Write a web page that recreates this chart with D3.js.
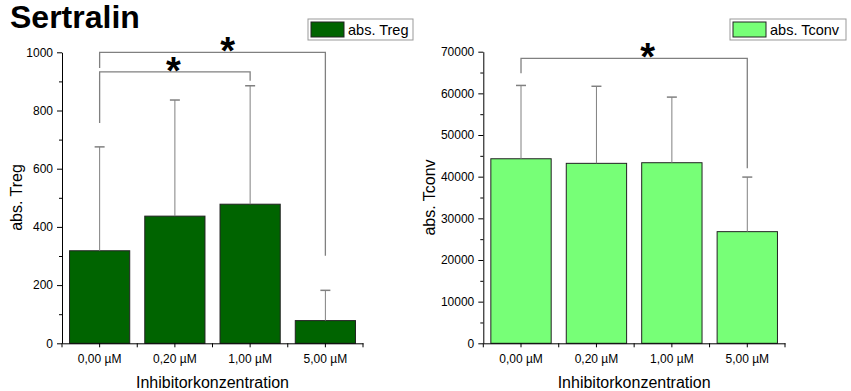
<!DOCTYPE html>
<html>
<head>
<meta charset="utf-8">
<script src="https://cdn.jsdelivr.net/npm/d3@7"></script>
<style>
  body { margin: 0; background: #fff; }
  svg { font-family: "Liberation Sans", Arial, sans-serif; }
</style>
</head>
<body>
<div id="chart"></div>
<script>
// Data
var categories = ["0,00 µM", "0,20 µM", "1,00 µM", "5,00 µM"];
var tregMean = [318, 437, 478, 78];
var tregSD = [357, 399, 407, 104];
var tconvMean = [44300, 43200, 43350, 26800];
var tconvSD = [17600, 18500, 15750, 13100];
var tregTicks = [0, 200, 400, 600, 800, 1000];
var tconvTicks = [0, 10000, 20000, 30000, 40000, 50000, 60000, 70000];

// significance brackets, in data units (star = category index of the asterisk)
var tregBrackets = [
  {from: 0, to: 3, y: 1000, left: 946, right: 301, star: 1.7},
  {from: 0, to: 2, y: 933, left: 757, right: 902, star: 0.98}
];
var tconvBrackets = [
  {from: 0, to: 3, y: 68400, left: 64800, right: 42000, star: 1.68}
];

var w = 851;
var h = 391;

var svg = d3.select("#chart")
  .append("svg")
  .attr("width", w)
  .attr("height", h);

svg.append("rect")
  .attr("width", w)
  .attr("height", h)
  .attr("fill", "#fff");

svg.append("text")
  .attr("x", 10)
  .attr("y", 28)
  .attr("font-size", "32px")
  .attr("font-weight", "bold")
  .text("Sertralin");

function drawPanel(p) {
  var g = svg.append("g");

  var xScale = d3.scaleBand()
    .domain(categories)
    .range([p.x0, p.x1])
    .paddingInner(0.2)
    .paddingOuter(0.1);

  var yScale = d3.scaleLinear()
    .domain([0, p.max])
    .range([p.y0, p.y1]);

  // minor y ticks
  var minor = [];
  for (var i = 0; i < p.ticks.length - 1; i++) {
    minor.push((p.ticks[i] + p.ticks[i + 1]) / 2);
  }
  g.append("g")
    .attr("transform", "translate(" + p.x0 + ",0)")
    .call(d3.axisLeft(yScale).tickValues(minor).tickSize(3).tickFormat("").tickSizeOuter(0))
    .call(a => a.select(".domain").remove());

  var yAxis = g.append("g")
    .attr("transform", "translate(" + p.x0 + ",0)")
    .call(d3.axisLeft(yScale).tickValues(p.ticks).tickFormat(d3.format("d"))
      .tickSize(5).tickPadding(4).tickSizeOuter(0));
  yAxis.selectAll("text").attr("font-size", "12px").attr("fill", "#000").attr("font-family", null);

  // bars
  g.selectAll(".bar")
    .data(p.means)
    .enter()
    .append("rect")
    .attr("x", (d, i) => xScale(categories[i]))
    .attr("y", d => yScale(d))
    .attr("width", xScale.bandwidth())
    .attr("height", d => yScale(0) - yScale(d))
    .attr("fill", p.fill)
    .attr("stroke", "#222")
    .attr("stroke-width", 1);

  // error bars (upper only)
  var cx = i => xScale(categories[i]) + xScale.bandwidth() / 2;
  p.means.forEach(function(m, i) {
    var top = yScale(m + p.sds[i]);
    g.append("line")
      .attr("x1", cx(i)).attr("x2", cx(i))
      .attr("y1", yScale(m)).attr("y2", top)
      .attr("stroke", "#808080").attr("stroke-width", 1);
    g.append("line")
      .attr("x1", cx(i) - 5).attr("x2", cx(i) + 5)
      .attr("y1", top).attr("y2", top)
      .attr("stroke", "#808080").attr("stroke-width", 1.5);
  });

  // x axis
  var xAxis = g.append("g")
    .attr("transform", "translate(0," + p.y0 + ")")
    .call(d3.axisBottom(xScale).tickSize(4).tickPadding(7).tickSizeOuter(0));
  xAxis.selectAll("text").attr("font-size", "12px").attr("fill", "#000").attr("font-family", null);
  var step = xScale.step();
  var bounds = d3.range(categories.length + 1).map(i => p.x0 + i * step);
  xAxis.selectAll(".bound")
    .data(bounds)
    .enter()
    .append("line")
    .attr("x1", d => d).attr("x2", d => d)
    .attr("y1", 0).attr("y2", 4)
    .attr("stroke", "#000");

  // brackets
  var idxX = d3.scaleLinear().domain([0, 1]).range([cx(0), cx(1)]);
  p.brackets.forEach(function(b) {
    g.append("path")
      .attr("d", "M" + cx(b.from) + "," + yScale(b.left) +
        "V" + yScale(b.y) + "H" + cx(b.to) + "V" + yScale(b.right))
      .attr("fill", "none")
      .attr("stroke", "#808080")
      .attr("stroke-width", 1.3);
    g.append("text")
      .attr("x", idxX(b.star))
      .attr("y", yScale(b.y) + 12)
      .attr("text-anchor", "middle")
      .attr("font-size", "38px")
      .attr("font-weight", "bold")
      .text("*");
  });

  // axis titles
  g.append("text")
    .attr("transform", "rotate(-90)")
    .attr("x", -197.5)
    .attr("y", p.ylabX)
    .attr("text-anchor", "middle")
    .attr("font-size", "16px")
    .text(p.label);

  g.append("text")
    .attr("x", (p.x0 + p.x1) / 2)
    .attr("y", 388)
    .attr("text-anchor", "middle")
    .attr("font-size", "16px")
    .text("Inhibitorkonzentration");

  // legend
  g.append("rect")
    .attr("x", p.legX).attr("y", 19)
    .attr("width", p.legW).attr("height", 21)
    .attr("fill", "#fff")
    .attr("stroke", "#999");
  g.append("rect")
    .attr("x", p.legX + 3).attr("y", 22)
    .attr("width", 33).attr("height", 15)
    .attr("fill", p.fill)
    .attr("stroke", "#222");
  g.append("text")
    .attr("x", p.legX + 40)
    .attr("y", 35)
    .attr("font-size", "14.5px")
    .text(p.label);
}

drawPanel({
  x0: 62, x1: 363, y0: 343.3, y1: 52.3, max: 1000,
  ticks: tregTicks, means: tregMean, sds: tregSD,
  fill: "#006400", label: "abs. Treg", ylabX: 22,
  brackets: tregBrackets, legX: 308, legW: 105
});

drawPanel({
  x0: 483.3, x1: 785, y0: 343.3, y1: 51.7, max: 70000,
  ticks: tconvTicks, means: tconvMean, sds: tconvSD,
  fill: "#77ff77", label: "abs. Tconv", ylabX: 435,
  brackets: tconvBrackets, legX: 730, legW: 116
});
</script>
</body>
</html>
